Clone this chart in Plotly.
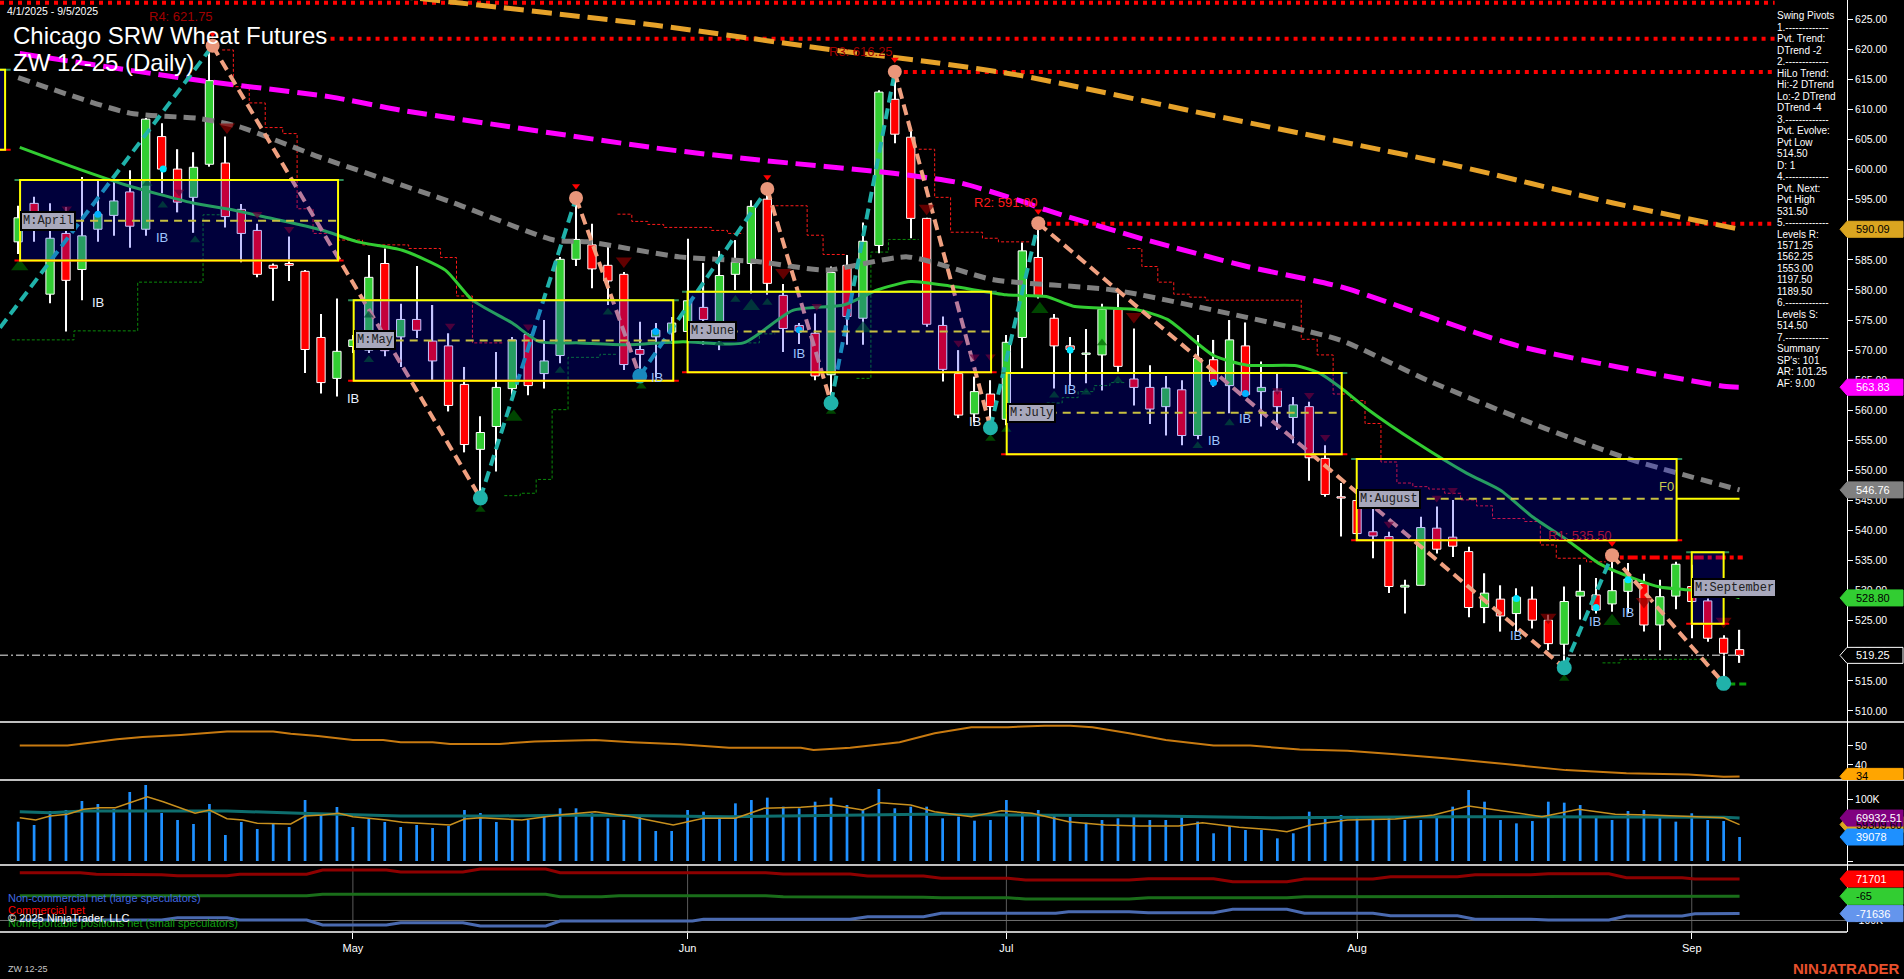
import plotly.graph_objects as go

# ---------------- categories / ticks ----------------
month_ticks = [21, 42, 62, 84, 105]
month_labels = ["May", "Jun", "Jul", "Aug", "Sep"]

# ---------------- daily OHLC, bar index 0 = 4/1/2025 ... 108 = 9/5/2025 ----------------
opens = [588.0, 594.4, 579.3, 589.4, 583.4, 590.1, 592.4, 596.3, 590.1, 605.5,
         600.1, 595.4, 600.9, 601.1, 593.4, 589.9, 584.1, 584.4, 583.1, 572.1,
         565.3, 570.6, 570.0, 584.4, 572.2, 575.1, 571.5, 570.7, 564.3, 553.5,
         557.3, 563.6, 572.6, 566.1, 569.1, 585.1, 587.5, 584.1, 582.6, 570.1,
         572.2, 573.0, 573.1, 577.1, 572.2, 582.6, 584.4, 595.1, 579.1, 574.1,
         572.8, 565.9, 584.1, 575.3, 587.4, 611.7, 605.4, 591.9, 574.1, 566.1,
         559.4, 562.7, 558.5, 572.1, 585.4, 575.3, 570.7, 569.3, 569.2, 576.8,
         565.2, 563.8, 560.6, 563.4, 555.8, 568.4, 564.1, 570.7, 563.1, 563.2,
         558.8, 560.6, 552.0, 545.6, 545.0, 539.8, 539.0, 530.6, 530.9, 540.4,
         538.9, 536.5, 527.2, 528.6, 526.2, 528.6, 525.1, 521.1, 529.1, 529.3,
         527.8, 529.9, 531.2, 524.3, 529.1, 530.7, 528.3, 522.1, 520.2]
highs = [594.0, 595.5, 594.4, 593.8, 598.8, 598.2, 598.2, 599.9, 608.6, 607.7,
         603.4, 602.9, 620.0, 605.5, 594.3, 591.0, 584.4, 588.9, 583.3, 576.0,
         578.6, 572.5, 585.8, 586.9, 577.7, 584.0, 577.5, 572.8, 567.2, 559.0,
         569.7, 572.2, 572.8, 575.0, 585.5, 594.5, 591.0, 587.5, 583.0, 574.7,
         574.5, 575.5, 588.5, 584.5, 586.5, 588.3, 594.9, 596.8, 581.0, 574.5,
         576.1, 583.9, 585.8, 591.2, 613.2, 616.3, 606.9, 592.0, 575.6, 570.0,
         565.6, 565.0, 572.5, 587.9, 591.0, 576.0, 572.2, 573.5, 577.7, 579.4,
         573.6, 567.5, 565.7, 565.0, 572.5, 571.7, 575.0, 574.6, 568.1, 566.1,
         562.2, 561.4, 554.2, 547.9, 546.0, 545.4, 539.8, 531.8, 542.3, 544.0,
         545.1, 537.3, 532.9, 530.9, 530.4, 530.7, 526.0, 530.7, 534.3, 532.1,
         535.5, 534.6, 532.8, 531.8, 534.8, 534.3, 528.7, 522.6, 523.5]
lows = [586.0, 588.0, 577.8, 573.1, 578.3, 588.0, 589.0, 587.0, 589.0, 596.1,
        592.9, 589.5, 600.5, 590.4, 584.6, 582.1, 578.2, 581.5, 566.2, 562.8,
        562.3, 569.5, 569.5, 569.0, 567.2, 572.0, 565.0, 559.8, 553.0, 545.6,
        549.8, 562.5, 562.5, 563.6, 567.8, 584.0, 580.3, 577.5, 566.7, 566.0,
        565.5, 571.0, 572.0, 570.9, 570.0, 580.0, 579.4, 579.2, 569.7, 571.0,
        565.0, 561.5, 570.9, 570.9, 586.1, 604.4, 588.6, 573.9, 564.8, 558.7,
        558.0, 557.5, 557.5, 567.0, 578.6, 563.6, 564.2, 564.5, 563.3, 566.4,
        560.8, 557.7, 555.8, 554.2, 555.2, 563.9, 559.5, 562.5, 557.3, 556.7,
        554.5, 548.3, 545.6, 539.0, 538.5, 535.4, 529.6, 526.2, 530.9, 536.2,
        535.6, 525.6, 524.6, 523.2, 523.2, 523.7, 520.1, 517.3, 525.2, 526.2,
        526.5, 526.2, 523.2, 520.1, 526.9, 522.1, 521.5, 514.5, 518.0]
closes = [592.0, 591.9, 588.6, 581.6, 589.0, 592.6, 594.8, 590.6, 608.4, 600.1,
          594.6, 600.4, 614.8, 592.2, 589.4, 582.6, 583.6, 584.1, 570.1, 564.6,
          569.8, 571.7, 582.1, 569.9, 575.1, 573.3, 568.2, 560.8, 554.3, 556.3,
          563.8, 571.7, 564.1, 568.2, 585.1, 588.4, 583.5, 581.5, 567.6, 569.3,
          573.3, 574.5, 578.2, 575.1, 582.4, 584.6, 593.9, 581.1, 573.6, 573.2,
          565.7, 582.9, 575.6, 588.1, 612.9, 605.9, 591.9, 574.3, 566.8, 559.2,
          563.1, 560.6, 571.3, 586.5, 578.9, 570.7, 570.1, 569.3, 576.8, 567.3,
          563.8, 560.2, 563.7, 555.8, 568.6, 564.8, 571.7, 562.6, 563.8, 560.6,
          560.9, 552.1, 546.0, 545.4, 539.5, 539.1, 530.7, 530.9, 540.5, 536.9,
          537.4, 527.2, 529.6, 525.8, 528.9, 525.1, 521.2, 528.2, 529.9, 526.8,
          530.0, 531.9, 524.3, 529.0, 534.4, 528.2, 522.1, 519.6, 519.25]
volume_k = [64.0, 58.6, 81.4, 83.1, 97.7, 92.8, 84.7, 112.4, 123.8, 78.2,
            66.8, 60.3, 92.8, 42.4, 63.5, 52.1, 61.3, 55.4, 99.3, 76.5,
            87.9, 55.4, 68.4, 63.5, 55.4, 58.6, 53.7, 57.0, 83.1, 78.2,
            63.5, 66.8, 66.8, 74.9, 85.8, 85.8, 77.7, 69.5, 66.8, 74.9,
            48.9, 48.9, 83.1, 80.3, 72.2, 93.9, 99.3, 103.2, 88.5, 85.8,
            96.6, 103.2, 91.2, 83.1, 117.3, 85.8, 88.5, 88.5, 69.5, 72.2,
            65.7, 66.8, 99.3, 77.7, 83.1, 73.3, 72.2, 62.4, 66.8, 69.5,
            74.9, 66.8, 66.8, 72.2, 64.1, 45.1, 57.0, 50.5, 50.5, 36.9,
            45.1, 80.3, 69.5, 74.9, 69.5, 66.8, 72.2, 66.8, 66.8, 72.2,
            88.5, 115.6, 96.6, 66.8, 61.3, 65.1, 96.6, 95.0, 91.2, 72.2,
            66.8, 81.4, 83.1, 74.9, 64.1, 77.7, 66.8, 65.1, 39.078]

# ---------------- moving averages (bar index, price) ----------------
ma_green_x = [0.1, 3.9, 6.7, 10.9, 13.5, 15.7, 19.0, 21.3, 24.1, 26.8, 28.5, 31.0, 32.7, 35.2, 38.1,
              41.7, 45.5, 48.6, 51.8, 53.9, 56.0, 58.6, 62.0, 64.5, 66.2, 70.2, 72.1, 75.0, 77.1, 80.2,
              81.7, 83.0, 84.6, 87.8, 90.9, 93.0, 95.0, 97.2, 99.2, 101.3, 103.0, 104.5, 107.0, 108.0]
ma_green_y = [603.7, 600.0, 597.5, 594.5, 593.3, 592.0, 590.0, 588.0, 586.6, 583.3, 578.3, 574.5, 571.4, 571.2, 570.9,
              571.4, 571.2, 576.6, 577.5, 580.0, 581.4, 580.6, 579.2, 578.9, 577.3, 576.7, 575.1, 569.1, 567.5, 567.4,
              566.1, 563.7, 560.3, 554.5, 549.5, 546.7, 542.3, 538.4, 534.5, 532.1, 530.6, 530.2, 529.6, 528.8]
ma_gray_x = [0.0, 7.0, 11.4, 13.9, 18.9, 23.1, 27.3, 33.6, 35.7, 41.5, 46.5, 50.7, 55.8, 61.2, 68.7, 74.9,
             82.9, 88.4, 95.0, 101.3, 108.0]
ma_gray_y = [615.3, 609.4, 608.5, 607.1, 602.1, 598.3, 594.5, 588.3, 588.0, 585.5, 584.7, 583.3, 585.5, 581.7,
             580.0, 576.7, 571.7, 565.0, 557.8, 551.7, 546.76]
ma_mag_x = [0.1, 11.2, 19.6, 24.0, 40.3, 46.5, 54.9, 59.1, 62.9, 64.5, 70.8, 77.1, 83.0, 94.1, 107.0, 108.0]
ma_mag_y = [619.3, 614.9, 612.1, 609.9, 603.5, 601.6, 599.4, 597.8, 594.8, 593.3, 588.3, 583.9, 580.5, 570.7,
            564.0, 563.83]
ma_org_x = [20.0, 25.0, 40.0, 52.0, 57.0, 63.0, 75.0, 90.0, 100.0, 108.0]
ma_org_y = [629.8, 628.5, 624.0, 619.6, 618.0, 615.6, 609.0, 600.8, 594.5, 590.09]

# ---------------- swing pivots / zigzag ----------------
zz_x = [-1.14, 12.2, 29, 35, 39, 47, 51, 55, 61, 64, 97, 100, 107]
zz_y = [573.7, 620.6, 545.4, 595.3, 565.7, 596.8, 561.2, 616.3, 557.1, 591.1, 517.2, 535.9, 514.6]
piv_hi_x = [12.2, 35, 47, 55, 64, 100]
piv_hi_y = [620.6, 595.3, 596.8, 616.3, 591.1, 535.9]
piv_lo_x = [29, 39, 51, 61, 97, 107]
piv_lo_y = [545.4, 565.7, 561.2, 557.1, 517.2, 514.6]

# ---------------- trailing step lines ----------------
red_step_a = [(12.8, 619.9), (13.5, 613.8), (14.5, 611.1), (15.5, 607.0), (16.6, 606.0), (17.5, 593.5),
              (18.5, 589.4), (20.1, 588.3), (21.6, 587.5), (24.5, 586.9), (26.5, 585.4), (27.5, 579.0),
              (28.5, 571.2), (30.5, 571.2)]
red_step_b = [(37.6, 592.6), (38.5, 591.4), (39.5, 590.9), (40.5, 590.4), (43.5, 589.9), (44.5, 589.4),
              (45.5, 589.4)]
red_step_c = [(47.2, 594.0), (49.5, 589.1), (50.5, 585.9), (52.0, 585.9)]
red_step_d = [(56.5, 603.4), (57.5, 595.4), (58.5, 589.6), (60.5, 588.6), (61.5, 588.0), (63.5, 588.0)]
red_step_e = [(69.6, 586.9), (70.5, 583.9), (71.5, 581.3), (72.5, 579.3), (73.5, 578.8), (74.5, 578.3),
              (80.5, 571.8), (81.5, 569.2), (82.5, 562.7), (83.6, 561.6), (84.5, 557.8), (85.5, 551.4),
              (86.5, 547.9), (87.5, 547.3), (88.5, 546.9), (89.5, 546.2), (90.5, 545.1), (91.5, 544.1),
              (92.5, 542.0), (94.5, 541.5), (95.5, 537.6), (96.5, 535.4), (98.4, 534.8), (99.6, 534.8)]
grn_step_a = [(-0.4, 571.7), (3.5, 573.2), (7.5, 581.3), (11.6, 592.5), (12.7, 592.5)]
grn_step_b = [(30.5, 545.8), (31.5, 546.2), (32.5, 548.5), (33.5, 560.1), (34.5, 568.8), (36.5, 569.3),
              (37.5, 569.3)]
grn_step_c = [(45.5, 571.2), (46.5, 572.7), (47.5, 572.7)]
grn_step_d = [(52.6, 565.3), (53.5, 586.3), (54.6, 588.4), (56.5, 588.4)]
grn_step_e = [(63.5, 560.6), (64.5, 561.2), (65.5, 562.1), (66.5, 563.1), (67.5, 564.1), (68.5, 564.6),
              (69.5, 564.6)]
grn_step_f = [(99.4, 518.0), (100.5, 518.6), (106.1, 518.6)]

# ---------------- pivot resistance levels ----------------
lvl_top = 627.75
lvl_r4, lvl_r3, lvl_r2, lvl_r1, lvl_s = 621.75, 616.25, 591.00, 535.50, 514.50
last_close = 519.25

# ---------------- monthly boxes (x0, x1, top, bottom, mid, label) ----------------
boxes = [(-3.0, -0.82, 616.6, 603.3, None, None),
         (0.12, 20.07, 598.3, 584.9, 591.5, "M:April"),
         (21.05, 41.1, 578.3, 564.9, 571.6, "M:May"),
         (42.0, 61.04, 579.7, 566.3, 573.1, "M:June"),
         (62.02, 83.04, 566.2, 552.7, 559.6, "M:July"),
         (83.98, 104.05, 551.9, 538.4, 545.3, "M:August"),
         (105.0, 107.0, 536.4, 524.5, 530.5, "M:September")]

# ---------------- markers ----------------
tri_dn = [(3.05, 593.5, 9), (10.1, 596.3, 9), (13.1, 607.1, 14), (15.0, 592.6, 9), (17.0, 590.1, 9),
          (27.1, 574.0, 9), (32.0, 573.9, 9), (38.0, 584.8, 14), (48.0, 582.9, 14), (50.1, 577.3, 9),
          (57.0, 593.6, 14), (59.0, 571.2, 9), (60.0, 568.9, 9), (61.0, 568.9, 9), (70.0, 575.6, 14),
          (79.0, 563.3, 9), (81.0, 562.5, 9), (82.0, 555.5, 9), (86.0, 541.1, 9), (89.0, 545.4, 9),
          (90.0, 546.7, 9), (96.0, 525.6, 14), (102.0, 528.2, 14), (106.0, 531.5, 9), (107.0, 524.9, 14)]
tri_up = [(0.1, 583.9, 15), (8.1, 597.7, 9), (9.07, 594.1, 9), (11.1, 588.3, 9), (22.0, 575.8, 9),
          (22.0, 568.4, 9), (29.0, 543.5, 9), (31.1, 558.9, 15), (34.0, 566.6, 9), (37.0, 576.3, 9),
          (39.1, 564.0, 9), (44.0, 571.2, 9), (45.0, 578.4, 9), (46.0, 577.3, 15), (47.0, 577.9, 9),
          (51.0, 559.8, 9), (53.0, 573.6, 15), (61.0, 555.3, 9), (62.0, 556.8, 9), (64.1, 576.8, 15),
          (65.0, 562.5, 9), (67.0, 563.0, 9), (68.0, 571.2, 9), (69.0, 565.0, 9), (74.0, 554.1, 9),
          (76.0, 557.9, 9), (97.0, 515.4, 9), (100.0, 524.9, 15)]
cyan_dots = [(5.0, 592.6), (9.1, 600.1), (40.0, 573.1), (49.0, 573.4), (66.0, 570.0), (75.0, 564.6),
             (77.0, 562.8), (94.0, 528.7), (99.0, 527.2), (101.0, 531.8)]
ib_labels = [(9.03, 588.8, "#9EC5FF"), (5.01, 578.0, "#E8F0FF"), (21.0, 562.0, "#E8F0FF"),
             (40.1, 565.5, "#9EC5FF"), (49.0, 569.5, "#9EC5FF"), (60.0, 558.2, "#E8F0FF"),
             (66.0, 563.5, "#9EC5FF"), (75.0, 555.0, "#9EC5FF"), (77.0, 558.7, "#9EC5FF"),
             (94.0, 522.6, "#9EC5FF"), (98.9, 524.9, "#9EC5FF"), (101.0, 526.4, "#9EC5FF")]

# ---------------- lower panels ----------------
adx_x = [0.1, 3.1, 6.2, 7.8, 10.2, 13.1, 16.0, 17.1, 18.8, 21.0, 22.9, 24.0, 26.0, 27.1, 30.2, 32.4, 36.2,
         38.5, 41.5, 44.6, 49.1, 49.9, 52.2, 55.3, 57.5, 59.8, 62.1, 64.4, 66.0, 67.4, 69.7, 72.0, 75.0,
         77.3, 80.4, 83.4, 86.4, 89.5, 93.3, 97.1, 100.9, 104.8, 107.0, 108.0]
adx_y = [50.2, 50.2, 53.6, 54.7, 55.8, 57.6, 57.6, 56.4, 55.3, 53.2, 53.2, 52.0, 52.0, 51.1, 51.1, 52.3, 53.2,
         52.0, 50.9, 49.1, 49.1, 47.9, 49.1, 52.0, 56.7, 59.9, 59.9, 60.7, 60.7, 59.9, 56.7, 53.2, 50.2,
         50.2, 48.2, 47.5, 45.6, 43.5, 40.5, 37.3, 35.6, 35.0, 33.8, 34.0]
vol_fast_x = [0.1, 1.1, 2.0, 3.1, 4.1, 5.1, 6.1, 7.0, 8.1, 9.1, 10.2, 11.1, 12.0, 13.1, 14.1, 15.0, 17.1, 18.0,
              19.1, 20.1, 21.0, 22.1, 23.1, 24.1, 25.1, 27.1, 28.0, 29.0, 30.2, 31.6, 33.9, 36.2, 38.5, 41.1,
              43.0, 45.0, 46.8, 49.1, 51.1, 53.0, 54.1, 56.0, 57.5, 59.8, 61.7, 63.6, 65.9, 68.2, 70.4, 72.8,
              74.3, 76.6, 78.8, 79.6, 81.1, 83.4, 86.4, 88.8, 91.0, 93.3, 95.6, 97.9, 100.2, 102.4, 104.8,
              107.0, 108.0]
vol_fast_k = [70.5, 66.8, 73.3, 76.0, 84.2, 86.8, 86.8, 95.0, 104.7, 96.6, 86.8, 77.7, 83.0, 68.9, 66.8, 61.4,
              60.3, 73.3, 74.9, 77.7, 72.2, 69.5, 66.8, 63.0, 61.4, 58.6, 68.4, 70.5, 68.9, 66.8, 74.9, 80.3,
              72.2, 58.6, 69.5, 69.5, 85.8, 87.5, 91.2, 83.0, 95.0, 91.2, 80.3, 72.2, 81.9, 77.7, 64.0, 58.6,
              57.0, 57.0, 62.4, 54.9, 50.5, 47.7, 58.6, 66.8, 68.4, 74.9, 89.6, 80.3, 72.2, 84.2, 76.0, 74.9,
              72.2, 70.5, 59.3]
vol_slow_x = [0.1, 2.0, 4.1, 8.1, 13.1, 17.7, 21.0, 24.0, 30.2, 35.4, 44.6, 56.8, 62.1, 71.3, 78.9, 90.3,
              107.0, 108.0]
vol_slow_k = [80.3, 78.7, 81.4, 81.4, 81.4, 77.7, 76.0, 73.3, 73.3, 74.9, 72.2, 76.0, 74.9, 73.3, 70.5, 72.2,
              71.1, 69.93251]
cot_comm_x = [0.1, 3.9, 4.9, 9.0, 10.0, 13.1, 13.9, 18.1, 19.1, 23.1, 24.0, 27.9, 29.0, 33.1, 34.0, 46.9, 48.0,
              52.2, 53.3, 56.8, 57.9, 62.1, 63.2, 69.7, 70.9, 75.0, 76.2, 79.6, 80.7, 85.0, 86.1, 90.3, 91.4,
              94.9, 96.0, 99.8, 100.9, 104.4, 105.2, 108.0]
cot_comm_k = [97.6, 97.6, 91.0, 89.0, 85.2, 85.2, 91.0, 91.0, 108.8, 108.8, 100.5, 100.5, 113.0, 113.0, 97.6,
              97.6, 92.3, 92.3, 84.0, 84.0, 74.5, 74.5, 67.4, 67.4, 72.8, 72.8, 60.4, 60.4, 71.6, 71.6, 81.1,
              81.1, 89.4, 89.4, 93.5, 93.5, 77.0, 77.0, 71.7, 71.701]
cot_small_x = [0.1, 18.1, 19.1, 33.1, 34.0, 36.6, 37.7, 46.9, 48.0, 52.2, 53.3, 56.8, 57.9, 62.1, 63.2, 69.7,
               70.9, 79.6, 80.7, 108.0]
cot_small_k = [2.5, 2.5, 8.3, 8.3, -1.7, -1.7, 2.5, 2.5, -1.7, -1.7, -3.5, -3.5, -5.8, -5.8, -11.2, -11.2,
               -5.8, -5.8, -1.7, -0.065]
cot_large_x = [0.1, 9.0, 10.0, 13.1, 13.9, 18.1, 19.1, 23.1, 24.0, 27.9, 29.0, 33.1, 34.0, 42.3, 43.0, 52.2,
               53.3, 56.8, 57.9, 65.1, 65.9, 69.7, 70.9, 75.0, 76.2, 79.6, 80.7, 85.0, 86.1, 90.3, 91.4, 94.9,
               96.0, 99.8, 100.9, 104.4, 105.2, 108.0]
cot_large_k = [-98.1, -98.1, -88.5, -88.5, -98.1, -98.1, -118.7, -118.7, -109.2, -109.2, -122.9, -122.9,
               -102.2, -102.2, -95.2, -95.2, -84.4, -84.4, -70.3, -70.3, -63.7, -63.7, -67.9, -67.9, -53.8,
               -53.8, -70.3, -70.3, -80.3, -80.3, -94.5, -94.5, -98.1, -98.1, -81.5, -81.5, -72.0, -71.636]

info_lines = ["Swing Pivots", "1.-------------", "Pvt. Trend:", "DTrend -2", "2.-------------",
              "HiLo Trend:", "Hi:-2 DTrend", "Lo:-2 DTrend", "DTrend -4", "3.-------------",
              "Pvt. Evolve:", "Pvt Low", "514.50", "D: 1", "4.-------------", "Pvt. Next:", "Pvt High",
              "531.50", "5.-------------", "Levels R:", "1571.25", "1562.25", "1553.00", "1197.50",
              "1189.50", "6.-------------", "Levels S:", "514.50", "7.-------------", "Summary",
              "SP's: 101", "AR: 101.25", "AF: 9.00"]

# ======================================================================
FONT = "Arial, Liberation Sans, sans-serif"
MONO = "Liberation Mono, Courier New, monospace"
W, H = 1904, 979
PW, PH = 1847, 932
X_RANGE = [-1.14, 114.74]


def xp(px):
    return px / PW


def yp(py):
    return (PH - py) / PH


def joined(segs):
    xs, ys = [], []
    for s in segs:
        for a, b in s:
            xs.append(a)
            ys.append(b)
        xs.append(None)
        ys.append(None)
    return xs, ys


fig = go.Figure()
idx = list(range(len(closes)))
NOHOVER = "skip"

# candles: wicks then bodies
fig.add_trace(go.Bar(x=idx, y=[h - l for h, l in zip(highs, lows)], base=lows, width=0.075,
                     marker=dict(color="#FFFFFF", line=dict(width=0)), hoverinfo=NOHOVER))
fig.add_trace(go.Bar(x=idx, y=[max(abs(c - o), 0.22) for o, c in zip(opens, closes)],
                     base=[min(o, c) for o, c in zip(opens, closes)], width=0.52,
                     marker=dict(color=["#32CD32" if c >= o else "#FF0000" for o, c in zip(opens, closes)],
                                 line=dict(color="#FFFFFF", width=1)), hoverinfo=NOHOVER))

# step lines
rx, ry = joined([red_step_a, red_step_b, red_step_c, red_step_d, red_step_e])
fig.add_trace(go.Scatter(x=rx, y=ry, mode="lines", line=dict(color="#FF1A1A", width=1, dash="3px,2px", shape="hv"),
                         hoverinfo=NOHOVER))
gx, gy = joined([grn_step_a, grn_step_b, grn_step_c, grn_step_d, grn_step_e, grn_step_f])
fig.add_trace(go.Scatter(x=gx, y=gy, mode="lines", line=dict(color="#0A8A0A", width=1, dash="3px,2px", shape="hv"),
                         hoverinfo=NOHOVER))

# horizontal levels
for lv, x0 in [(lvl_top, X_RANGE[0]), (lvl_r4, 19.6), (lvl_r3, 55.0), (lvl_r2, 64.0)]:
    fig.add_trace(go.Scatter(x=[x0, 110.2], y=[lv, lv], mode="lines",
                             line=dict(color="#FF0000", width=4, dash="4px,5px"), hoverinfo=NOHOVER))
fig.add_trace(go.Scatter(x=[99.6, 108.2], y=[lvl_r1, lvl_r1], mode="lines",
                         line=dict(color="#FF0000", width=4, dash="10px,4px,4px,4px"), hoverinfo=NOHOVER))
fig.add_trace(go.Scatter(x=[X_RANGE[0], 108.3], y=[last_close, last_close], mode="lines",
                         line=dict(color="#A0A0A0", width=1.5, dash="8px,3px,2px,3px"), hoverinfo=NOHOVER))
fig.add_trace(go.Scatter(x=[106.6, 108.6], y=[lvl_s, lvl_s], mode="lines",
                         line=dict(color="#0A9A0A", width=3, dash="7px,4px"), hoverinfo=NOHOVER))

# moving averages
fig.add_trace(go.Scatter(x=ma_org_x, y=ma_org_y, mode="lines",
                         line=dict(color="#E6A22A", width=5, dash="20px,8px", shape="spline", smoothing=0.6),
                         hoverinfo=NOHOVER))
fig.add_trace(go.Scatter(x=ma_mag_x, y=ma_mag_y, mode="lines",
                         line=dict(color="#FF00FF", width=5, dash="20px,8px", shape="spline", smoothing=0.6),
                         hoverinfo=NOHOVER))
fig.add_trace(go.Scatter(x=ma_gray_x, y=ma_gray_y, mode="lines",
                         line=dict(color="#808080", width=5, dash="12px,7px", shape="spline", smoothing=0.6),
                         hoverinfo=NOHOVER))
fig.add_trace(go.Scatter(x=ma_green_x, y=ma_green_y, mode="lines",
                         line=dict(color="#32CD32", width=3, shape="spline", smoothing=0.6), hoverinfo=NOHOVER))

# zigzag
upx, upy, dnx, dny = [], [], [], []
for k in range(len(zz_x) - 1):
    tx, ty = (upx, upy) if zz_y[k + 1] > zz_y[k] else (dnx, dny)
    tx += [zz_x[k], zz_x[k + 1], None]
    ty += [zz_y[k], zz_y[k + 1], None]
fig.add_trace(go.Scatter(x=upx, y=upy, mode="lines", line=dict(color="#20B2AA", width=4, dash="11px,6px"),
                         hoverinfo=NOHOVER))
fig.add_trace(go.Scatter(x=dnx, y=dny, mode="lines", line=dict(color="#F0A080", width=4, dash="11px,6px"),
                         hoverinfo=NOHOVER))

# markers
fig.add_trace(go.Scatter(x=[t[0] for t in tri_dn], y=[t[1] for t in tri_dn], mode="markers",
                         marker=dict(symbol="triangle-down", color="#8B0000", size=[t[2] for t in tri_dn],
                                     line=dict(width=0)), hoverinfo=NOHOVER))
fig.add_trace(go.Scatter(x=[t[0] for t in tri_up], y=[t[1] for t in tri_up], mode="markers",
                         marker=dict(symbol="triangle-up", color="#006400", size=[t[2] for t in tri_up],
                                     line=dict(width=0)), hoverinfo=NOHOVER))
fig.add_trace(go.Scatter(x=[d[0] for d in cyan_dots], y=[d[1] for d in cyan_dots], mode="markers",
                         marker=dict(color="#00E5FF", size=7, line=dict(width=0)), hoverinfo=NOHOVER))
fig.add_trace(go.Scatter(x=piv_hi_x, y=piv_hi_y, mode="markers",
                         marker=dict(color="#E9967A", size=14, line=dict(width=0)), hoverinfo=NOHOVER))
fig.add_trace(go.Scatter(x=piv_hi_x, y=[v + 2.0 for v in piv_hi_y], mode="markers",
                         marker=dict(symbol="triangle-down", color="#FF0000", size=7, line=dict(width=0)),
                         hoverinfo=NOHOVER))
fig.add_trace(go.Scatter(x=piv_lo_x, y=piv_lo_y, mode="markers",
                         marker=dict(color="#20B2AA", size=15, line=dict(width=0)), hoverinfo=NOHOVER))

# ---- panel 2 (trend strength) ----
fig.add_trace(go.Scatter(x=adx_x, y=adx_y, yaxis="y2", mode="lines", line=dict(color="#C87A10", width=2),
                         hoverinfo=NOHOVER))
# ---- panel 3 (volume) ----
fig.add_trace(go.Bar(x=idx, y=[v * 1000 for v in volume_k], yaxis="y3", width=0.17,
                     marker=dict(color="#1E90FF", line=dict(width=0)), hoverinfo=NOHOVER))
fig.add_trace(go.Scatter(x=vol_slow_x, y=[v * 1000 for v in vol_slow_k], yaxis="y3", mode="lines",
                         line=dict(color="#0E6E6E", width=3), hoverinfo=NOHOVER))
fig.add_trace(go.Scatter(x=vol_fast_x, y=[v * 1000 for v in vol_fast_k], yaxis="y3", mode="lines",
                         line=dict(color="#C8901E", width=1.5), hoverinfo=NOHOVER))
# ---- panel 4 (COT) ----
fig.add_trace(go.Scatter(x=[X_RANGE[0], X_RANGE[1]], y=[-100000, -100000], yaxis="y4", mode="lines",
                         line=dict(color="#707070", width=1), hoverinfo=NOHOVER))
fig.add_trace(go.Scatter(x=cot_comm_x, y=[v * 1000 for v in cot_comm_k], yaxis="y4", mode="lines",
                         line=dict(color="#8E0000", width=3), hoverinfo=NOHOVER))
fig.add_trace(go.Scatter(x=cot_small_x, y=[v * 1000 for v in cot_small_k], yaxis="y4", mode="lines",
                         line=dict(color="#1A6E1A", width=3), hoverinfo=NOHOVER))
fig.add_trace(go.Scatter(x=cot_large_x, y=[v * 1000 for v in cot_large_k], yaxis="y4", mode="lines",
                         line=dict(color="#4A6AB0", width=3), hoverinfo=NOHOVER))

shapes, annos = [], []

# monthly boxes
for x0, x1, top, bot, mid, lab in boxes:
    shapes.append(dict(type="line", xref="x", yref="y", x0=x0 - 0.35, x1=x1 + 0.35, y0=top, y1=top,
                       line=dict(color="#2E8B57", width=2), layer="above"))
    shapes.append(dict(type="line", xref="x", yref="y", x0=x0 - 0.35, x1=x1 + 0.35, y0=bot, y1=bot,
                       line=dict(color="#FF0000", width=2), layer="above"))
    shapes.append(dict(type="rect", xref="x", yref="y", x0=x0, x1=x1, y0=bot, y1=top,
                       fillcolor="rgba(0,0,255,0.23)", line=dict(color="#FFFF00", width=2), layer="above"))
    if mid is not None:
        shapes.append(dict(type="line", xref="x", yref="y", x0=x0, x1=x1, y0=mid, y1=mid,
                           line=dict(color="#C8C040", width=2, dash="8px,6px"), layer="above"))
    if lab:
        annos.append(dict(xref="x", yref="y", x=x0, y=mid, xanchor="left", yanchor="middle", text=lab,
                          showarrow=False, bgcolor="#A8A8BC", bordercolor="#000000", borderwidth=2, borderpad=1,
                          font=dict(family=MONO, size=12, color="#202020")))
# August mid extension + F0
shapes.append(dict(type="line", xref="x", yref="y", x0=104.05, x1=108.0, y0=545.3, y1=545.3,
                   line=dict(color="#FFFF00", width=2), layer="above"))
annos.append(dict(xref="x", yref="y", x=103.4, y=547.3, text="F0", showarrow=False,
                  font=dict(family=FONT, size=13, color="#C8C850")))

# level labels
for x, y, t, c in [(10.2, 625.4, "R4: 621.75", "#A00000"), (52.9, 619.7, "R3: 616.25", "#A00000"),
                   (62.0, 594.5, "R2: 591.00", "#FF1A1A"), (98.0, 539.1, "R1: 535.50", "#A8103A")]:
    annos.append(dict(xref="x", yref="y", x=x, y=y, text=t, showarrow=False,
                      font=dict(family=FONT, size=13, color=c)))
for x, y, c in ib_labels:
    annos.append(dict(xref="x", yref="y", x=x, y=y, text="IB", showarrow=False,
                      font=dict(family=FONT, size=13, color=c)))

# panel separators
for py, x1 in [(722, W / PW), (780, W / PW), (865, W / PW), (932, 1.0)]:
    shapes.append(dict(type="line", xref="paper", yref="paper", x0=0, x1=x1, y0=yp(py), y1=yp(py),
                       line=dict(color="#FFFFFF", width=1.5), layer="above"))
for t in month_ticks:
    shapes.append(dict(type="line", xref="x", yref="paper", x0=t, x1=t, y0=0, y1=yp(865),
                       line=dict(color="#5A5A5A", width=1), layer="below"))


def tag(yref, val, text, bg, fg, border=None):
    shapes.append(dict(type="path", xref="paper", yref=yref, xsizemode="pixel", ysizemode="pixel",
                       xanchor=1, yanchor=val, path="M -7,0 L 0,8 L 56,8 L 56,-8 L 0,-8 Z",
                       fillcolor=bg, line=dict(color=border or bg, width=1), layer="above"))
    annos.append(dict(xref="paper", yref=yref, x=1, y=val, xanchor="left", yanchor="middle", xshift=7,
                      text=text, showarrow=False, font=dict(family=FONT, size=11, color=fg)))


tag("y", 590.09, "590.09", "#DAA520", "#000000")
tag("y", 563.83, "563.83", "#FF00FF", "#FFFFFF")
tag("y", 546.76, "546.76", "#808080", "#FFFFFF")
tag("y", 528.80, "528.80", "#32CD32", "#000000")
tag("y", 519.25, "519.25", "#000000", "#FFFFFF", "#FFFFFF")
tag("y2", 34, "34", "#FFA500", "#000000")
tag("y3", 59300, "59309.60", "#DAA520", "#000000")
tag("y3", 69932.51, "69932.51", "#800080", "#FFFFFF")
tag("y3", 39078, "39078", "#1E90FF", "#FFFFFF")
tag("y4", 71701, "71701", "#FF0000", "#FFFFFF")
tag("y4", -65, "-65", "#32CD32", "#000000")
tag("y4", -71636, "-71636", "#6495ED", "#FFFFFF")

# texts
annos.append(dict(xref="paper", yref="paper", x=xp(5), y=yp(11), xanchor="left", yanchor="middle",
                  text="4/1/2025 - 9/5/2025", showarrow=False, font=dict(family=FONT, size=10.5, color="#FFFFFF")))
annos.append(dict(xref="paper", yref="paper", x=xp(11), y=yp(35.5), xanchor="left", yanchor="middle",
                  text="Chicago SRW Wheat Futures", showarrow=False, font=dict(family=FONT, size=24, color="#FFFFFF")))
annos.append(dict(xref="paper", yref="paper", x=xp(11), y=yp(62.5), xanchor="left", yanchor="middle",
                  text="ZW 12-25 (Daily)", showarrow=False, font=dict(family=FONT, size=24, color="#FFFFFF")))
for k, line in enumerate(info_lines):
    annos.append(dict(xref="paper", yref="paper", x=xp(1775), y=yp(15.7 + 11.49 * k), xanchor="left",
                      yanchor="middle", text=line, showarrow=False,
                      font=dict(family=FONT, size=10, color="#FFFFFF")))
for py, t, c in [(897.7, "Non-commercial net (large speculators)", "#4169E1"),
                 (910.3, "Commercial net", "#FF0000"),
                 (922.5, "Nonreportable positions net (small speculators)", "#10A010"),
                 (918.0, "© 2025 NinjaTrader, LLC", "#FFFFFF")]:
    annos.append(dict(xref="paper", yref="paper", x=xp(6), y=yp(py), xanchor="left", yanchor="middle",
                      text=t, showarrow=False, font=dict(family=FONT, size=11, color=c)))
annos.append(dict(xref="paper", yref="paper", x=xp(6), y=yp(969.5), xanchor="left", yanchor="middle",
                  text="ZW 12-25", showarrow=False, font=dict(family=FONT, size=9, color="#C8C8C8")))
annos.append(dict(xref="paper", yref="paper", x=xp(1902), y=yp(968.5), xanchor="right", yanchor="middle",
                  text="<b>NINJATRADER</b>", showarrow=False, font=dict(family=FONT, size=15, color="#E8502D")))

ytick_common = dict(side="right", anchor="x", showgrid=False, zeroline=False, showline=True,
                    linecolor="#FFFFFF", linewidth=1, ticks="outside", ticklen=5, tickcolor="#FFFFFF",
                    tickfont=dict(family=FONT, size=10.5, color="#FFFFFF"), fixedrange=True)

fig.update_layout(
    width=W, height=H, autosize=False,
    margin=dict(l=0, r=W - PW, t=0, b=H - PH, pad=0),
    paper_bgcolor="#000000", plot_bgcolor="#000000",
    showlegend=False, barmode="overlay", hovermode=False,
    xaxis=dict(range=X_RANGE, anchor="y4", tickmode="array", tickvals=month_ticks, ticktext=month_labels,
               ticks="outside", ticklen=6, tickcolor="#FFFFFF", showgrid=False, zeroline=False, showline=False,
               tickfont=dict(family=FONT, size=11, color="#FFFFFF"), fixedrange=True),
    yaxis=dict(domain=[yp(722), 1.0], range=[508.17, 628.21], tickmode="array",
               tickvals=list(range(510, 626, 5)), tickformat=".2f", **ytick_common),
    yaxis2=dict(domain=[yp(780), yp(722)], range=[32.1, 62.63], tickmode="array", tickvals=[40, 50],
                **ytick_common),
    yaxis3=dict(domain=[yp(865), yp(780)], range=[-6500, 131900], tickmode="array", tickvals=[0, 100000],
                ticktext=["", "100K"], **ytick_common),
    yaxis4=dict(domain=[0, yp(865)], range=[-147700, 129500], tickmode="array", tickvals=[-100000],
                ticktext=["-100K"], **ytick_common),
    shapes=shapes, annotations=annos,
)

fig.write_html("out.html", config={"displayModeBar": False},
               post_script="document.body.style.margin='0';document.body.style.padding='0';"
                           "document.body.style.overflow='hidden';document.body.style.background='#000';")
